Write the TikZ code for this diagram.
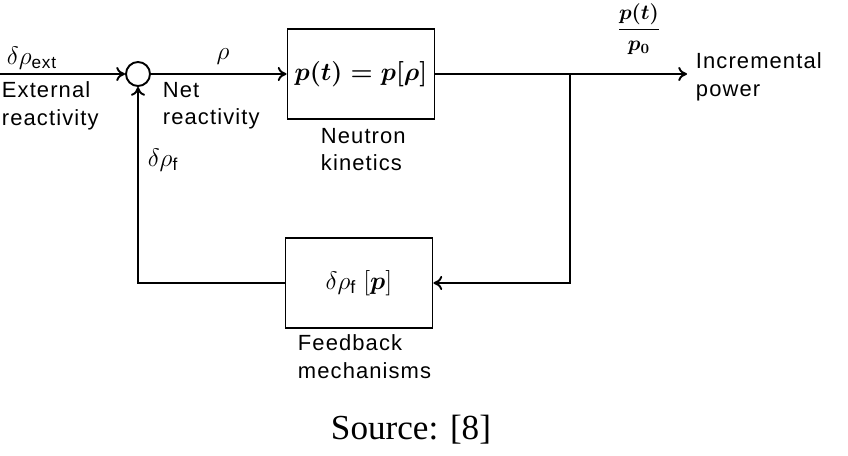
\documentclass[tikz,border=0pt]{standalone}
\usepackage{amsmath}
\usepackage{fontspec}
\setmainfont{Liberation Serif}
\setsansfont[LetterSpace=5]{Liberation Sans}
\usetikzlibrary{arrows.meta}

\begin{document}
\begin{tikzpicture}[x=0.02cm,y=-0.02cm,line width=1.1pt,>={To[length=5pt,width=8pt]},
  lbl/.style={font=\sffamily\fontsize{12.5}{15.5}\selectfont,align=left,inner sep=0pt},
  sym/.style={font=\fontsize{14}{16}\selectfont,inner sep=0pt},
  blk/.style={draw,minimum width=2.94cm,minimum height=1.8cm,inner sep=0pt,font=\fontsize{14.5}{18}\selectfont}]
\useasboundingbox (0,0) rectangle (848,456);
\node[draw,circle,minimum size=0.48cm,inner sep=0pt] (sum) at (138,74) {};
\node[blk] (kin) at (361,74) {$\boldsymbol{p(t)=p[\rho]}$};
\node[blk] (fb) at (359,283) {$\delta\rho_{\textsf{f}}\;[\boldsymbol{p}]$};
\coordinate (in) at (0,74);
\coordinate (tap) at (570,74);
\coordinate (out) at (687,74);
\draw[->] (in) -- (sum);
\draw[->] (sum) -- (kin);
\draw[->] (kin) -- (out);
\draw[->] (tap) |- (fb);
\draw[->] (fb) -| (sum);
\node[sym] (dext) at (32,58) {$\delta\rho_{\textsf{ext}}$};
\node[sym] (rho) at (223,57) {$\rho$};
\node[sym] (df) at (163,160) {$\delta\rho_{\textsf{f}}$};
\node[sym,font=\fontsize{12}{14}\selectfont] (ratio) at (639,29) {$\boldsymbol{\dfrac{p(t)}{p_0}}$};
\node[lbl,anchor=north west] (ext) at (1,81) {External\\reactivity};
\node[lbl,anchor=north west] (net) at (162,81) {Net\\reactivity};
\node[lbl,anchor=north west] (nk) at (320,127) {Neutron\\kinetics};
\node[lbl,anchor=north west] (pow) at (695,52) {Incremental\\power};
\node[lbl,anchor=north west] (fm) at (297,334) {Feedback\\mechanisms};
\node[font=\fontsize{20}{24}\selectfont] (src) at (411,430) {Source: [8]};
\end{tikzpicture}
\end{document}
